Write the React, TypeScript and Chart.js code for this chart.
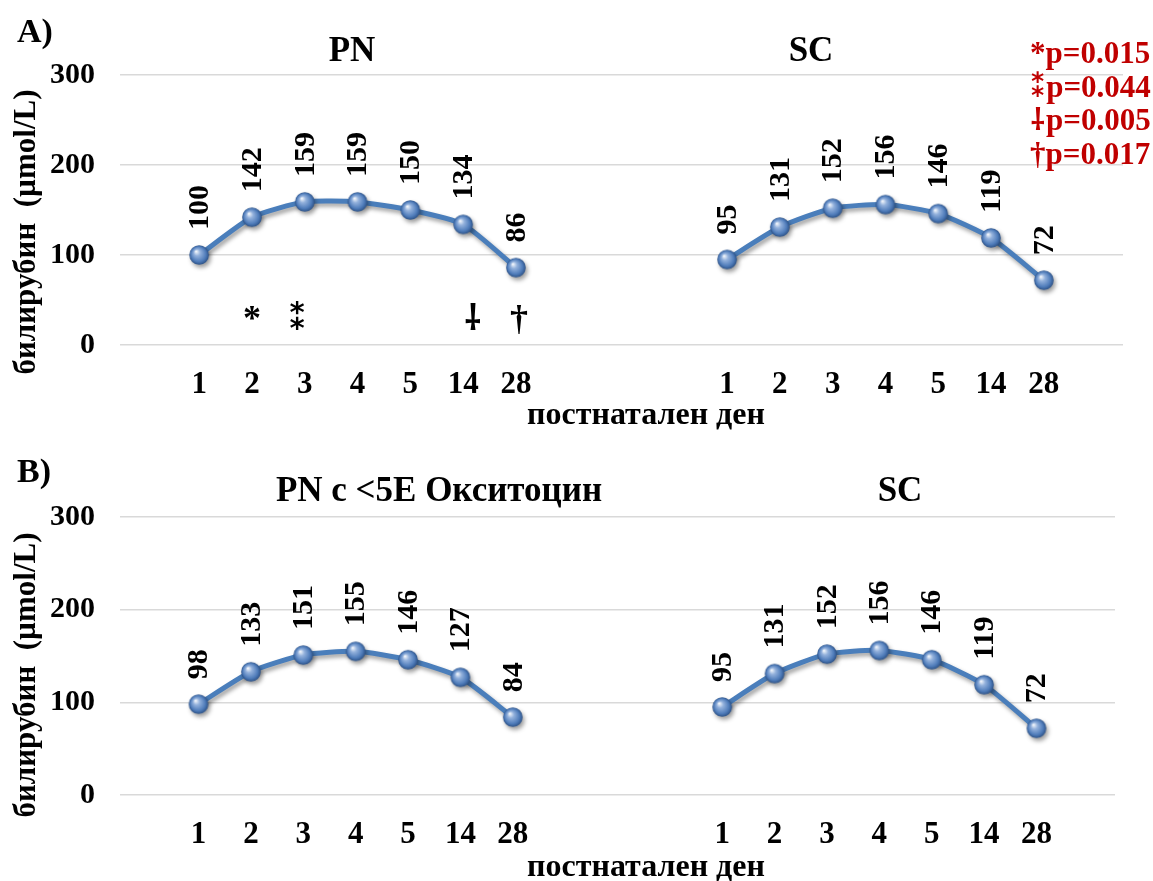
import React, { useEffect, useRef } from 'react';
import { Chart, registerables } from 'chart.js';

Chart.register(...registerables);

// ---- data ----
const days = ['1', '2', '3', '4', '5', '14', '28'];
const pnA = [100, 142, 159, 159, 150, 134, 86];
const scA = [95, 131, 152, 156, 146, 119, 72];
const pnB = [98, 133, 151, 155, 146, 127, 84];
const scB = [95, 131, 152, 156, 146, 119, 72];
const yTicks = [0, 100, 200, 300];
const annotSymbols = ['*', '⁑', '⸸', '†'];
const annotDays = ['2', '3', '14', '28'];
const pValues = ['0.015', '0.044', '0.005', '0.017'];
const titlesA = ['PN', 'SC'];
const titlesB = ['PN с <5E Окситоцин', 'SC'];
const yTitle = 'билирубин  (µmol/L)';
const xTitle = 'постнатален ден';

const FONT = '"Liberation Serif", "DejaVu Serif", "DejaVu Sans", "Noto Sans", serif';
const LINE = '#4a7ebb';

// category layout: one empty slot, PN days, three empty slots, SC days, one empty slot
const labels = ['', ...days, '', '', '', ...days, ''];
const PN_OFF = 1;
const SC_OFF = 1 + days.length + 3;

function series(vals: number[], off: number): (number | null)[] {
  const out: (number | null)[] = labels.map(() => null);
  vals.forEach((v, i) => { out[off + i] = v; });
  return out;
}

function makeSphere(): HTMLCanvasElement {
  const s = 22;
  const c = document.createElement('canvas');
  c.width = s; c.height = s;
  const g = c.getContext('2d')!;
  const cx = s / 2, cy = s / 2, r = 9.8;
  const grad = g.createRadialGradient(cx - 3, cy - 3.5, 0.5, cx, cy, r);
  grad.addColorStop(0, '#eef3fa');
  grad.addColorStop(0.3, '#93b1dc');
  grad.addColorStop(0.75, '#4f7cba');
  grad.addColorStop(1, '#2d5287');
  g.fillStyle = grad;
  g.beginPath();
  g.arc(cx, cy, r, 0, Math.PI * 2);
  g.fill();
  return c;
}

type Panel = {
  pn: number[]; sc: number[]; titles: string[]; titleX: number[];
  label: string; padTop: number; padRight: number; xAxisH: number;
  yTitleY: number; xTitleY: number; annot: boolean; legend: boolean;
};

function buildConfig(p: Panel, sphere: HTMLCanvasElement): any {
  const textPlugin = {
    id: 'texts',
    beforeDatasetsDraw(chart: any) {
      const ctx = chart.ctx;
      ctx.save();
      ctx.shadowColor = 'rgba(0,0,0,0.38)';
      ctx.shadowBlur = 4;
      ctx.shadowOffsetX = 2;
      ctx.shadowOffsetY = 3;
    },
    afterDatasetsDraw(chart: any) {
      const ctx = chart.ctx;
      ctx.restore();
      // data labels (rotated)
      ctx.save();
      ctx.fillStyle = '#000';
      ctx.font = `bold 30px ${FONT}`;
      ctx.textAlign = 'left';
      ctx.textBaseline = 'middle';
      chart.data.datasets.forEach((ds: any, di: number) => {
        const meta = chart.getDatasetMeta(di);
        meta.data.forEach((el: any, i: number) => {
          const v = ds.data[i];
          if (v === null || v === undefined) return;
          ctx.save();
          ctx.translate(el.x + 1, el.y - 25);
          ctx.rotate(-Math.PI / 2);
          ctx.fillText(String(v), 0, 0);
          ctx.restore();
        });
      });
      ctx.restore();
    },
    afterDraw(chart: any) {
      const ctx = chart.ctx;
      const xs = chart.scales.x;
      const ys = chart.scales.y;
      ctx.save();
      ctx.fillStyle = '#000';
      ctx.textBaseline = 'alphabetic';
      // panel label
      ctx.textAlign = 'left';
      ctx.font = `bold 34px ${FONT}`;
      ctx.fillText(p.label, 17, 42);
      // panel titles
      ctx.textAlign = 'center';
      ctx.font = `bold 35px ${FONT}`;
      p.titles.forEach((t, i) => ctx.fillText(t, p.titleX[i], 61));
      // x title
      ctx.font = `bold 32px ${FONT}`;
      ctx.fillText(xTitle, 646, p.xTitleY);
      // y title
      ctx.save();
      ctx.translate(27, p.yTitleY);
      ctx.rotate(-Math.PI / 2);
      ctx.textBaseline = 'middle';
      ctx.font = `bold 31px ${FONT}`;
      ctx.fillText(yTitle, 0, 0);
      ctx.restore();
      // significance marks
      if (p.annot) {
        ctx.font = `bold 36px ${FONT}`;
        const dx = [0, -7, 10, 3];
        annotDays.forEach((d, i) => {
          const x = xs.getPixelForValue(PN_OFF + days.indexOf(d)) + dx[i];
          ctx.fillText(annotSymbols[i], x, ys.getPixelForValue(17));
        });
      }
      // p-value legend
      if (p.legend) {
        ctx.textAlign = 'left';
        ctx.fillStyle = '#c00000';
        ctx.font = `bold 31px ${FONT}`;
        pValues.forEach((pv, i) => {
          ctx.fillText(`${annotSymbols[i]}p=${pv}`, 1030, 63 + i * 33.5);
        });
      }
      ctx.restore();
    },
  };

  const dsCommon = {
    borderColor: LINE,
    backgroundColor: LINE,
    borderWidth: 5,
    pointStyle: sphere,
    pointRadius: 10,
    tension: 0.2,
    fill: false,
  };

  return {
    type: 'line',
    data: {
      labels,
      datasets: [
        { ...dsCommon, label: p.titles[0], data: series(p.pn, PN_OFF) },
        { ...dsCommon, label: p.titles[1], data: series(p.sc, SC_OFF) },
      ],
    },
    options: {
      animation: false,
      responsive: false,
      layout: { padding: { top: p.padTop, right: p.padRight, left: 0, bottom: 0 } },
      plugins: { legend: { display: false }, tooltip: { enabled: false }, title: { display: false } },
      scales: {
        x: {
          type: 'category',
          offset: true,
          grid: { display: false, drawTicks: false, offset: true },
          border: { display: false },
          ticks: {
            autoSkip: false, maxRotation: 0, minRotation: 0, color: '#000', padding: 21,
            font: { family: FONT, size: 31, weight: 'bold' },
          },
          afterFit: (s: any) => { s.height = p.xAxisH; },
        },
        y: {
          min: 0, max: 300,
          grid: { color: '#d9d9d9', lineWidth: 1.5, drawTicks: false },
          border: { display: false },
          afterBuildTicks: (s: any) => { s.ticks = yTicks.map((v) => ({ value: v })); },
          ticks: {
            color: '#000', padding: 25,
            font: { family: FONT, size: 30, weight: 'bold' },
          },
          afterFit: (s: any) => { s.width = 120; },
        },
      },
    },
    plugins: [textPlugin],
  };
}

const panelA: Panel = {
  pn: pnA, sc: scA, titles: titlesA, titleX: [352, 811], label: 'A)',
  padTop: 75, padRight: 30, xAxisH: 95, yTitleY: 232, xTitleY: 424, annot: true, legend: true,
};
const panelB: Panel = {
  pn: pnB, sc: scB, titles: titlesB, titleX: [439, 900], label: 'B)',
  padTop: 77, padRight: 38, xAxisH: 86, yTitleY: 235, xTitleY: 436, annot: false, legend: false,
};

function ChartCanvas({ panel, height, top }: { panel: Panel; height: number; top: number }) {
  const ref = useRef<HTMLCanvasElement | null>(null);
  useEffect(() => {
    if (!ref.current) return;
    const chart = new Chart(ref.current, buildConfig(panel, makeSphere()));
    return () => chart.destroy();
  }, [panel]);
  return (
    <canvas
      ref={ref}
      width={1153}
      height={height}
      style={{ position: 'absolute', left: 0, top, width: 1153, height, display: 'block' }}
    />
  );
}

export default function App() {
  return (
    <div style={{ position: 'absolute', left: 0, top: 0, width: 1153, height: 881, background: '#fff', overflow: 'hidden' }}>
      <ChartCanvas panel={panelA} height={440} top={0} />
      <ChartCanvas panel={panelB} height={441} top={440} />
    </div>
  );
}
